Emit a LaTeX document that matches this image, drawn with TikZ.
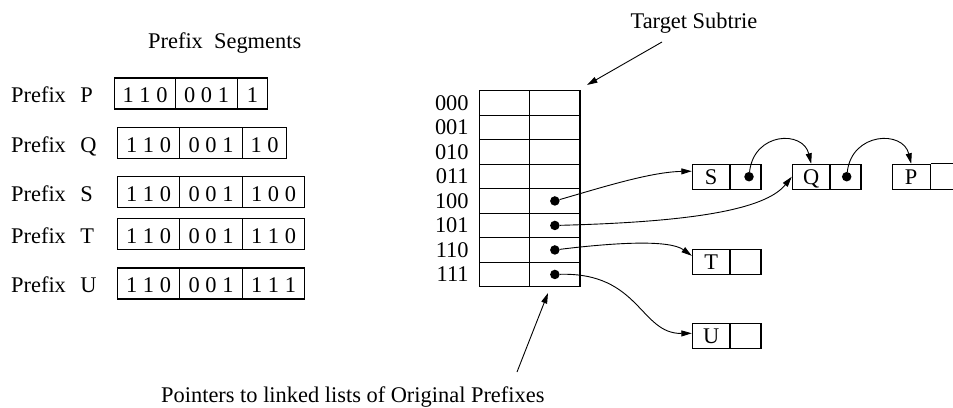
\documentclass[tikz,border=0pt]{standalone}
\usepackage{fontspec}
\setmainfont{Liberation Serif}
\usetikzlibrary{arrows.meta}
\begin{document}
\begin{tikzpicture}[x=1pt,y=-1pt,
  font=\fontsize{22.4}{26}\selectfont,
  seg/.style={draw, line width=1.1pt, anchor=west, minimum height=31pt,
    inner sep=0pt, text height=18pt, text depth=0pt},
  rowlbl/.style={anchor=west, inner sep=0pt, text height=18pt, text depth=0pt},
  tcell/.style={draw, line width=1.1pt, minimum width=50.3pt, minimum height=24.5pt, inner sep=0pt},
  lcell/.style={draw, line width=1.1pt, minimum height=24.7pt, inner sep=0pt,
    text height=15pt, text depth=0pt},
  dot/.style={circle, fill, inner sep=0pt, minimum size=9.5pt},
  ptr/.style={line width=0.9pt, -{Triangle[length=10.5pt,width=6pt]}}]
\useasboundingbox (0,0) rectangle (953,407);

% ---- prefix segments ----
\node[anchor=base west, inner sep=0pt] (title) at (148,48) {Prefix\ \ Segments};

\node[rowlbl] (lP) at (11,93.5) {Prefix\hspace{0.65em}P};
\node[seg, minimum width=61pt] (P1) at (114,93.5) {1 1 0};
\node[seg, minimum width=62pt] (P2) at (175,93.5) {0 0 1};
\node[seg, minimum width=30pt] (P3) at (237,93.5) {1};

\node[rowlbl] (lQ) at (11,143) {Prefix\hspace{0.65em}Q};
\node[seg, minimum width=62pt] (Q1) at (117,143) {1 1 0};
\node[seg, minimum width=63pt] (Q2) at (179,143) {0 0 1};
\node[seg, minimum width=44pt] (Q3) at (242,143) {1 0};

\node[rowlbl] (lS) at (11,192) {Prefix\hspace{0.65em}S};
\node[seg, minimum width=62pt] (S1) at (117,192) {1 1 0};
\node[seg, minimum width=63pt] (S2) at (179,192) {0 0 1};
\node[seg, minimum width=62pt] (S3) at (242,192) {1 0 0};

\node[rowlbl] (lT) at (11,234) {Prefix\hspace{0.65em}T};
\node[seg, minimum width=62pt] (T1) at (117,234) {1 1 0};
\node[seg, minimum width=63pt] (T2) at (179,234) {0 0 1};
\node[seg, minimum width=62pt] (T3) at (242,234) {1 1 0};

\node[rowlbl] (lU) at (11,283.5) {Prefix\hspace{0.65em}U};
\node[seg, minimum width=62pt] (U1) at (117,283.5) {1 1 0};
\node[seg, minimum width=63pt] (U2) at (179,283.5) {0 0 1};
\node[seg, minimum width=62pt] (U3) at (242,283.5) {1 1 1};

% ---- target subtrie table ----
\foreach \i/\b in {0/000,1/001,2/010,3/011,4/100,5/101,6/110,7/111} {
  \node[tcell] (l\i) at ({504.5},{102.95+24.5*\i}) {};
  \node[tcell] (r\i) at ({554.85},{102.95+24.5*\i}) {};
  \node[anchor=east, inner sep=0pt] (b\i) at ([xshift=-10pt]l\i.west) {\b};
}
\foreach \i in {4,5,6,7} { \node[dot] (d\i) at (r\i) {}; }

\node[anchor=base, inner sep=0pt] (tgt) at (694,28) {Target Subtrie};
\coordinate (tgtA) at (662,42);
\coordinate (tgtB) at (587,85);
\draw[ptr] (tgtA) -- (tgtB);

\node[anchor=base west, inner sep=0pt] (ptrs) at (161,402) {Pointers to linked lists of Original Prefixes};
\coordinate (ptrA) at (517,372);
\coordinate (ptrB) at (548,293);
\draw[ptr] (ptrA) -- (ptrB);

% ---- linked lists ----
\node[lcell, minimum width=37.7pt] (sL) at (711.2,176.7) {S};
\node[lcell, minimum width=31pt] (sR) at (745.5,176.7) {};
\node[dot] (sd) at (749,176.7) {};

\node[lcell, minimum width=37.7pt] (qL) at (811.2,176.7) {Q};
\node[lcell, minimum width=31pt] (qR) at (845.5,176.7) {};
\node[dot] (qd) at (846.7,176.7) {};

\node[lcell, minimum width=37.7pt] (pL) at (911.2,176.7) {P};
\draw[line width=1.1pt] (pL.north east) -- ++(23,0);
\draw[line width=1.1pt] (pL.south east) -- ++(23,0);

\node[lcell, minimum width=37.7pt] (tL) at (711.2,261.8) {T};
\node[lcell, minimum width=31pt] (tR) at (745.5,261.8) {};

\node[lcell, minimum width=37.7pt] (uL) at (711.2,335.8) {U};
\node[lcell, minimum width=31pt] (uR) at (745.5,335.8) {};

% ---- pointers ----
\draw[ptr] (d4) .. controls (600,188) and (650,172) .. ([yshift=5.5pt]sL.west);
\draw[ptr] (d5) .. controls (690,222) and (765,210) .. (qL.west);
\draw[ptr] (d6) .. controls (620,242) and (670,240) .. ([yshift=6pt]tL.west);
\draw[ptr] (d7) .. controls (640,272) and (640,334) .. ([yshift=2.5pt]uL.west);
\draw[ptr] (sd) .. controls (754,132) and (803,130) .. (qL.north);
\draw[ptr] (qd) .. controls (852,132) and (903,130) .. (pL.north);
\end{tikzpicture}
\end{document}
